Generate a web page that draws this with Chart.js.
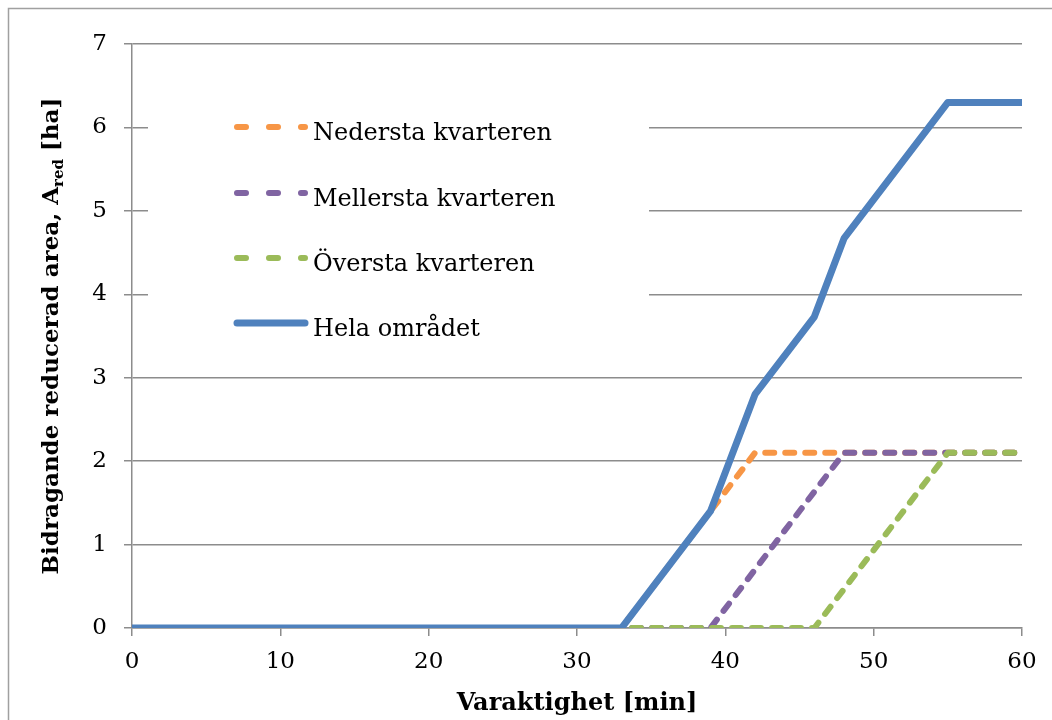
<!DOCTYPE html>
<html>
<head>
<meta charset="utf-8">
<script src="https://cdn.jsdelivr.net/npm/chart.js@4.4.1/dist/chart.umd.min.js"></script>
<style>
	body { margin: 0; background: #fff; }
	#wrap { width: 1052px; height: 720px; }
</style>
</head>
<body>
<div id="wrap"><canvas id="graficoArea" width="1052" height="720"></canvas></div>
<script>
// Tick labels
var ticksX = [0, 10, 20, 30, 40, 50, 60];
var ticksY = [0, 1, 2, 3, 4, 5, 6, 7];

// Series (varaktighet [min] -> area [ha])
var nedersta = { namn: 'Nedersta kvarteren', x: [0, 33, 42, 60], y: [0, 0, 2.1, 2.1] };
var mellersta = { namn: 'Mellersta kvarteren', x: [0, 39, 48, 60], y: [0, 0, 2.1, 2.1] };
var oversta = { namn: 'Översta kvarteren', x: [0, 46, 55, 60], y: [0, 0, 2.1, 2.1] };
var hela = { namn: 'Hela området', x: [0, 33, 39, 42, 46, 48, 55, 60], y: [0, 0, 1.4, 2.8, 3.73, 4.67, 6.3, 6.3] };

var GRID = '#8c8c8c';
var SERIF = '"DejaVu Serif", "Liberation Serif", serif';

function punkter(serie) {
	return serie.x.map(function(v, i) {
		return { x: v, y: serie.y[i] };
	});
}

function streckad(serie, farg, ordning) {
	return {
		label: serie.namn,
		data: punkter(serie),
		borderColor: farg,
		backgroundColor: farg,
		borderWidth: 6,
		borderDash: [9, 11],
		borderCapStyle: 'round',
		borderJoinStyle: 'round',
		pointRadius: 0,
		tension: 0,
		order: ordning,
		legendDash: [9, 23]
	};
}

// White legend box inside the plot, with titles and frame
var egenLegend = {
	id: 'egenLegend',
	beforeDatasetsDraw: function(chart) {
		var ctx = chart.ctx;
		ctx.save();
		ctx.fillStyle = '#fff';
		ctx.fillRect(148, 95, 501, 260);
		ctx.restore();
	},
	afterDatasetsDraw: function(chart) {
		var ctx = chart.ctx;
		var rader = [127, 193, 258, 323];
		ctx.save();
		chart.data.datasets.forEach(function(ds, i) {
			var y = rader[i];
			ctx.beginPath();
			ctx.lineWidth = ds.borderWidth;
			ctx.strokeStyle = ds.borderColor;
			ctx.lineCap = 'round';
			ctx.setLineDash(ds.legendDash || []);
			ctx.moveTo(237, y);
			ctx.lineTo(305, y);
			ctx.stroke();
			ctx.setLineDash([]);
			ctx.fillStyle = '#000';
			ctx.font = '24px ' + SERIF;
			ctx.textBaseline = 'alphabetic';
			ctx.fillText(ds.label, 313, y + 13);
		});

		// y title with subscript
		var delar = [
			{ t: 'Bidragande reducerad area, A', f: 'bold 23px ' + SERIF, dy: 0 },
			{ t: 'red', f: 'bold 15px ' + SERIF, dy: 5 },
			{ t: ' [ha]', f: 'bold 23px ' + SERIF, dy: 0 }
		];
		var total = 0;
		delar.forEach(function(d) {
			ctx.font = d.f;
			d.w = ctx.measureText(d.t).width;
			total += d.w;
		});
		var mitt = (chart.chartArea.top + chart.chartArea.bottom) / 2;
		ctx.translate(58, mitt);
		ctx.rotate(-Math.PI / 2);
		var pos = -total / 2;
		delar.forEach(function(d) {
			ctx.font = d.f;
			ctx.fillText(d.t, pos, d.dy);
			pos += d.w;
		});
		ctx.setTransform(1, 0, 0, 1, 0, 0);

		// x title
		ctx.font = 'bold 24px ' + SERIF;
		ctx.textAlign = 'center';
		ctx.fillText('Varaktighet [min]', (chart.chartArea.left + chart.chartArea.right) / 2, 710);

		// outer frame
		ctx.strokeStyle = '#a0a0a0';
		ctx.lineWidth = 1.5;
		ctx.strokeRect(8.5, 8.5, 1100, 800);
		ctx.restore();
	}
};

var heldragen = {
	label: hela.namn,
	data: punkter(hela),
	borderColor: '#4f81bd',
	backgroundColor: '#4f81bd',
	borderWidth: 7,
	borderCapStyle: 'butt',
	borderJoinStyle: 'round',
	pointRadius: 0,
	tension: 0,
	order: 0
};

var grafico = new Chart(document.getElementById('graficoArea').getContext('2d'), {
	type: 'line',
	data: {
		datasets: [
			streckad(nedersta, '#f79646', 3),
			streckad(mellersta, '#8064a2', 2),
			streckad(oversta, '#9bbb59', 1),
			heldragen
		]
	},
	options: {
		responsive: false,
		animation: false,
		layout: { padding: { left: 0, top: 44, right: 30, bottom: 0 } },
		plugins: {
			legend: { display: false },
			tooltip: { enabled: false },
			title: { display: false }
		},
		scales: {
			x: {
				type: 'linear',
				min: ticksX[0],
				max: ticksX[ticksX.length - 1],
				afterBuildTicks: function(scale) {
					scale.ticks = ticksX.map(function(v) { return { value: v }; });
				},
				afterFit: function(scale) { scale.height = 92; },
				grid: { drawOnChartArea: false, color: GRID, lineWidth: 1.5, tickLength: 8 },
				border: { color: GRID, width: 1.5 },
				ticks: { color: '#000', padding: 12, maxRotation: 0, font: { family: SERIF, size: 23 } }
			},
			y: {
				min: ticksY[0],
				max: ticksY[ticksY.length - 1],
				afterBuildTicks: function(scale) {
					scale.ticks = ticksY.map(function(v) { return { value: v }; });
				},
				afterFit: function(scale) { scale.width = 132; },
				grid: { color: GRID, lineWidth: 1.5, tickLength: 8 },
				border: { color: GRID, width: 1.5 },
				ticks: { color: '#000', padding: 17, font: { family: SERIF, size: 23 } }
			}
		}
	},
	plugins: [egenLegend]
});
</script>
</body>
</html>
